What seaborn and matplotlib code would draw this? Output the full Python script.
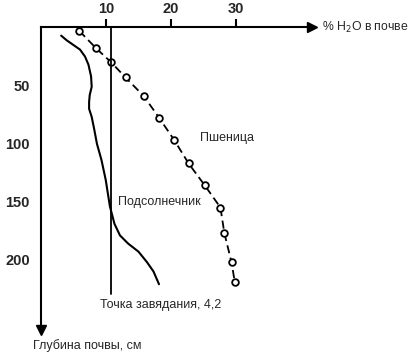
import matplotlib
matplotlib.use("Agg")
import matplotlib.pyplot as plt
import seaborn as sns
import pandas as pd

# wheat (Пшеница) - measured points, % H2O vs depth
wheat_h2o = [5.9, 8.5, 10.8, 13.0, 15.8, 18.2, 20.5, 22.7, 25.2, 27.6, 28.2, 29.3, 29.8]
wheat_depth = [3, 18, 30, 43, 59, 78, 97, 117, 136, 155, 177, 202, 219]

# sunflower (Подсолнечник) - smooth curve
sun_h2o = [3.1, 3.95, 4.97, 6.0, 6.77, 7.3, 7.7, 7.8, 7.5, 7.4, 7.4, 7.8, 8.2, 8.6,
           8.9, 9.3, 9.95, 10.6, 11.3, 12.15, 13.4, 15.0, 16.3, 17.3, 18.15]
sun_depth = [7, 11, 15, 19, 25, 32, 42, 51, 58, 64, 70, 77, 88, 100,
             106, 114, 131, 154, 169, 179, 186, 193, 202, 210, 221]

wilting_h2o = 10.7
wilting_depth = [0, 229]

x_ticks = [10, 20, 30]
y_ticks = [50, 100, 150, 200]

sns.set_style("white")
plt.rcParams["font.family"] = ["Liberation Sans", "DejaVu Sans"]

fig = plt.figure(figsize=(4.14, 3.59), dpi=100)
ax = fig.add_axes([0.099, 0.0724, 0.662, 0.851])

wheat = pd.DataFrame({"h2o": wheat_h2o, "depth": wheat_depth})
sun = pd.DataFrame({"h2o": sun_h2o, "depth": sun_depth})

sns.lineplot(data=wheat, x="h2o", y="depth", sort=False, estimator=None, ax=ax,
             color="black", lw=1.3, dashes=False, linestyle=(0, (4.5, 2.5)),
             marker="o", markersize=4.8, markerfacecolor="white",
             markeredgecolor="black", markeredgewidth=1.3)
sns.lineplot(data=sun, x="h2o", y="depth", sort=False, estimator=None, ax=ax,
             color="black", lw=1.5)
ax.plot([wilting_h2o, wilting_h2o], wilting_depth, color="black", lw=1.3)

ax.set_xlim(0, 42.15)
ax.set_ylim(263, 0)
ax.set_xlabel("")
ax.set_ylabel("")

for s in ["right", "bottom"]:
    ax.spines[s].set_visible(False)
for s in ["left", "top"]:
    ax.spines[s].set_linewidth(1.5)
    ax.spines[s].set_color("black")

ax.xaxis.tick_top()
ax.set_xticks(x_ticks)
ax.set_yticks(y_ticks)
ax.tick_params(axis="both", direction="out", length=6, width=1.5, color="black",
               labelsize=10.5, pad=2)
for lab in ax.get_xticklabels() + ax.get_yticklabels():
    lab.set_fontweight("bold")

# arrow heads
ax.plot(0.99, 1, marker=">", color="black", markersize=7, transform=ax.transAxes, clip_on=False)
ax.plot(0, 0.01, marker="v", color="black", markersize=7, transform=ax.transAxes, clip_on=False)

ax.text(43.2, 0, "% H$_2$O в почве", fontsize=8.8, va="center", ha="left", clip_on=False)
ax.text(-1.2, 274, "Глубина почвы, см", fontsize=9, va="center", ha="left", clip_on=False)
ax.text(24.5, 95, "Пшеница", fontsize=9, va="center", ha="left")
ax.text(11.8, 150, "Подсолнечник", fontsize=9, va="center", ha="left")
ax.text(9.1, 239, "Точка завядания, 4,2", fontsize=9, va="center", ha="left")

fig.savefig("out.png", dpi=100)
